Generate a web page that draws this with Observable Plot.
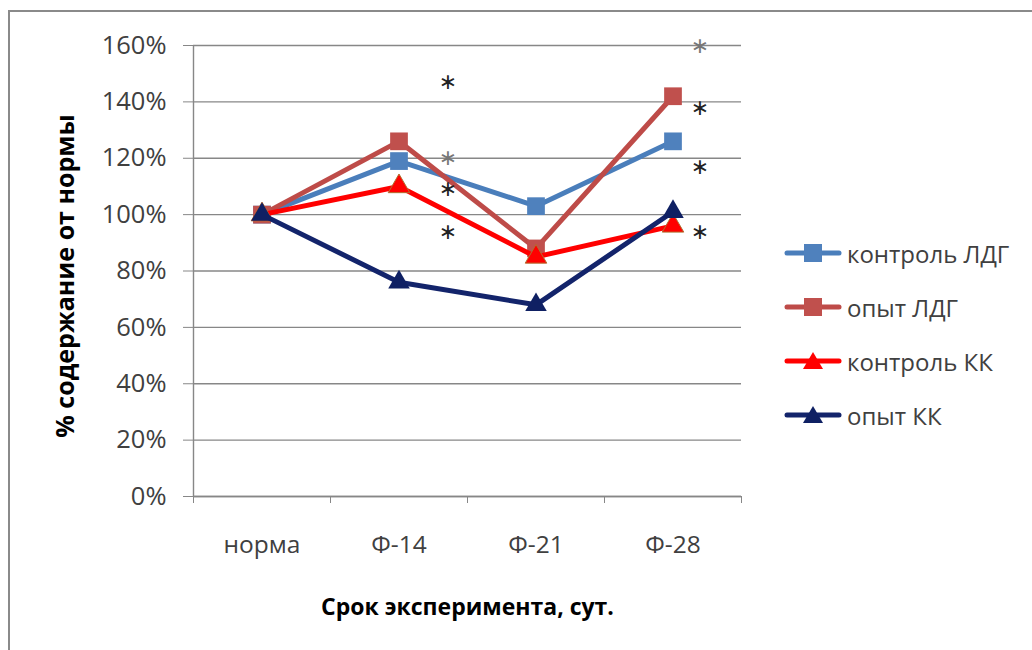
<!DOCTYPE html>
<html><head><meta charset="utf-8">
<script src="https://cdn.jsdelivr.net/npm/d3@7"></script>
<script src="https://cdn.jsdelivr.net/npm/@observablehq/plot@0.6"></script>
<style>
body{margin:0;background:#fff;}
#wrap{position:relative;width:1032px;height:650px;overflow:hidden;background:#fff;}
#frame{position:absolute;left:8px;top:10px;width:1040px;height:660px;border:2px solid #8a8a8a;box-sizing:border-box;pointer-events:none;}
#chart{position:absolute;left:0;top:0;}
#legend{position:absolute;left:784px;top:226px;font-family:"Open Sans",sans-serif;font-size:24px;color:#404040;}
.item{display:flex;align-items:center;height:54px;white-space:nowrap;}
.item svg{margin-right:5px;flex:none;}
</style></head>
<body>
<div id="wrap"><div id="chart"></div><div id="frame"></div><div id="legend"></div></div>
<script>
const categories = ["норма", "Ф-14", "Ф-21", "Ф-28"];
const seriesNames = ["контроль ЛДГ", "опыт ЛДГ", "контроль КК", "опыт КК"];
const controlLDG = [100, 119, 103, 126];
const opytLDG = [100, 126, 88, 142];
const controlKK = [100, 110, 85, 96];
const opytKK = [100, 76, 68, 101];
const yTicks = [0, 20, 40, 60, 80, 100, 120, 140, 160];
const starsF14 = [147, 120, 109, 94];
const starsF28 = [160, 138, 117, 94];

const lineColors = ["#4A7EBB", "#BE4B48", "#FF0000", "#13246B"];
const markColors = ["#4F81BD", "#C0504D", "#FF0000", "#0F2063"];
const symbols = ["square", "square", "triangle", "triangle"];
const seriesValues = [controlLDG, opytLDG, controlKK, opytKK];

const table = [];
seriesNames.forEach((s, k) => seriesValues[k].forEach((v, i) => table.push({series: s, k, i, v})));
const starRows = (vals, cat) => vals.map((v, j) => ({i: categories.indexOf(cat), v, faint: j === 0 && cat === "Ф-28" || j === 1 && cat === "Ф-14"}));
const bounds = d3.range(categories.length + 1).map(i => i - 0.5);
const font = "'Open Sans', sans-serif";

const marks = [
  Plot.gridY(yTicks, {stroke: "#878787", strokeOpacity: 1, strokeWidth: 1.4}),
  Plot.ruleX([-0.5], {stroke: "#878787", strokeWidth: 1.4}),
  Plot.ruleY([0], {stroke: "#878787", strokeWidth: 1.4}),
  Plot.axisY(yTicks, {tickSize: 10, tickPadding: 17, tickFormat: d => d + "%", fontSize: 25.5, fill: "#404040", stroke: "#878787", label: null}),
  Plot.axisX(bounds, {tickSize: 7, tickFormat: () => "", stroke: "#878787", label: null}),
  Plot.axisX(d3.range(categories.length), {tickSize: 0, tickPadding: 39, tickFormat: i => categories[i], fontSize: 24.5, fill: "#404040", label: null}),
  Plot.text(["% содержание от нормы"], {frameAnchor: "left", textAnchor: "middle", lineAnchor: "middle", rotate: -90, dx: -128, dy: 5, fontSize: 25, fontWeight: "bold", fill: "#000"}),
  Plot.text(["Срок эксперимента, сут."], {frameAnchor: "bottom", lineAnchor: "middle", dy: 111, fontSize: 23, fontWeight: "bold", fill: "#000"})
];
seriesNames.forEach((s, k) => {
  const rows = table.filter(d => d.k === k);
  marks.push(Plot.line(rows, {x: "i", y: "v", stroke: lineColors[k], strokeWidth: 5, strokeLinejoin: "round"}));
  marks.push(Plot.dot(rows, {x: "i", y: "v", symbol: symbols[k], r: k < 2 ? 10 : 8, fill: markColors[k], stroke: k === 2 ? "#b07030" : "none", strokeWidth: 1}));
});
marks.push(Plot.text(starRows(starsF14, "Ф-14"), {x: "i", y: "v", text: () => "∗", dx: 49, fontSize: 22, fontFamily: "DejaVu Sans", fill: d => d.faint ? "#777" : "#222"}));
marks.push(Plot.text(starRows(starsF28, "Ф-28"), {x: "i", y: "v", text: () => "∗", dx: 27, fontSize: 22, fontFamily: "DejaVu Sans", fill: d => d.faint ? "#777" : "#222"}));

const chart = Plot.plot({
  width: 1032, height: 650,
  marginLeft: 193, marginRight: 291, marginTop: 45, marginBottom: 154,
  style: {fontFamily: font, background: "transparent"},
  x: {domain: [-0.5, 3.5]},
  y: {domain: [0, 160]},
  marks
});
document.getElementById("chart").appendChild(chart);

const legend = document.getElementById("legend");
seriesNames.forEach((s, k) => {
  const it = document.createElement("div");
  it.className = "item";
  const shape = symbols[k] === "square"
    ? `<rect x="20" y="4" width="18" height="18" fill="${markColors[k]}"/>`
    : `<path d="M29,4 L39,21 L19,21 Z" fill="${markColors[k]}"/>`;
  it.innerHTML = `<svg width="58" height="26"><line x1="3" y1="13" x2="55" y2="13" stroke="${lineColors[k]}" stroke-width="5" stroke-linecap="round"/>${shape}</svg><span>${s}</span>`;
  legend.appendChild(it);
});
</script>
</body></html>
